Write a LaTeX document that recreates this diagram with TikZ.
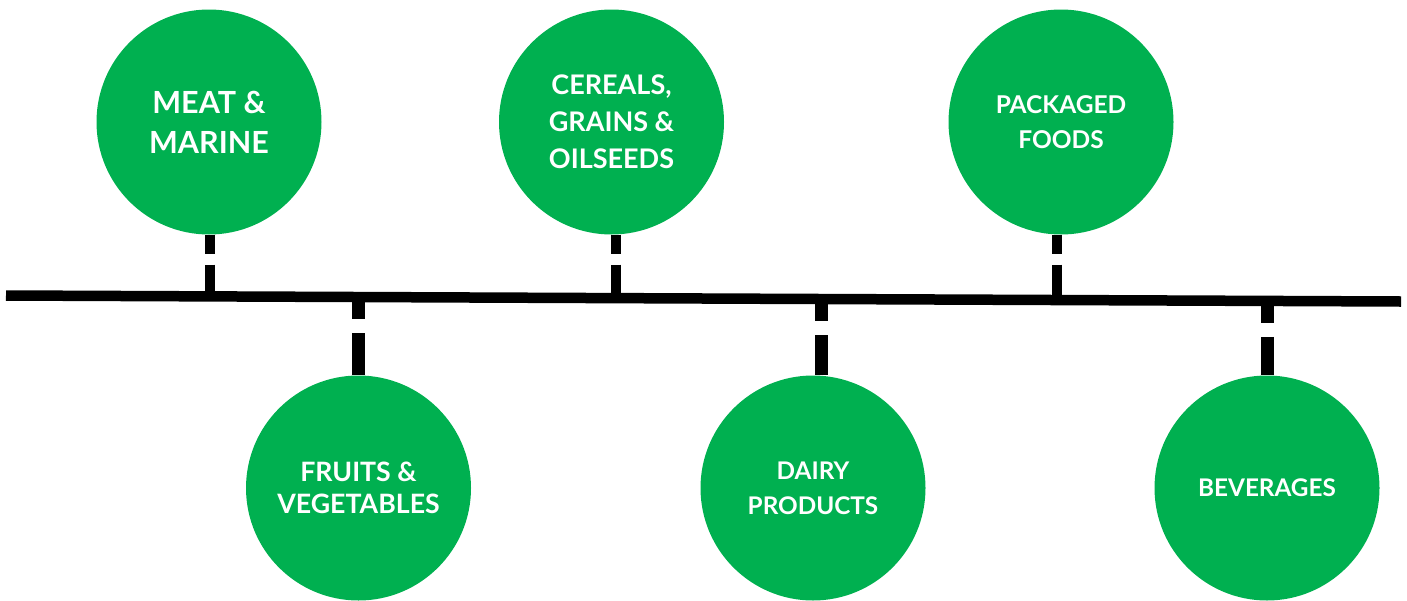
\documentclass[tikz,border=0pt]{standalone}
\usepackage{fontspec}
\setmainfont{Lato}
\usepackage{tikz}
\usetikzlibrary{calc}
\definecolor{leafgreen}{HTML}{00B050}

\begin{document}
\begin{tikzpicture}[x=1pt,y=-1pt,
  topic/.style 2 args={circle,fill=leafgreen,minimum size=225pt,inner sep=0pt,
    text=white,align=center,font=\bfseries\fontsize{#1}{#2}\selectfont},
  upstem/.style={line width=10.5pt,dash pattern=on 19pt off 11pt on 200pt off 1pt},
  downstem/.style={line width=13pt,dash pattern=on 22pt off 14pt on 200pt off 1pt}]
  \useasboundingbox (0,0) rectangle (1407,600);
  % timeline
  \coordinate (lstart) at (6,295.5);
  \coordinate (lend) at (1401,301.5);
  \draw[line width=10.5pt] (lstart) -- (lend);
  \coordinate (tmeat) at ($(lstart)!0.1462!(lend)$);
  \coordinate (tfruit) at ($(lstart)!0.2527!(lend)$);
  \coordinate (tcereal) at ($(lstart)!0.4373!(lend)$);
  \coordinate (tdairy) at ($(lstart)!0.5849!(lend)$);
  \coordinate (tpack) at ($(lstart)!0.7534!(lend)$);
  \coordinate (tdrink) at ($(lstart)!0.9043!(lend)$);
  % circles above
  \node[topic={30.5}{40}] (meat) at (209,122) {MEAT \&\\MARINE};
  \node[topic={27}{37}] (cereal) at (611.5,122) {CEREALS,\\GRAINS \&\\OILSEEDS};
  \node[topic={24.5}{35}] (pack) at (1061,122) {PACKAGED\\FOODS};
  % circles below
  \node[topic={26.7}{32}] (fruit) at (358.5,488) {FRUITS \&\\VEGETABLES};
  \node[topic={24.3}{35}] (dairy) at (813,488) {DAIRY\\PRODUCTS};
  \node[topic={24.3}{30}] (drink) at (1267,488) {BEVERAGES};
  % stems
  \draw[upstem] (tmeat |- meat.south) -- (tmeat);
  \draw[upstem] (tcereal |- cereal.south) -- (tcereal);
  \draw[upstem] (tpack |- pack.south) -- (tpack);
  \draw[downstem] (tfruit) -- (tfruit |- fruit.north);
  \draw[downstem] (tdairy) -- (tdairy |- dairy.north);
  \draw[downstem] (tdrink) -- (tdrink |- drink.north);
\end{tikzpicture}
\end{document}
